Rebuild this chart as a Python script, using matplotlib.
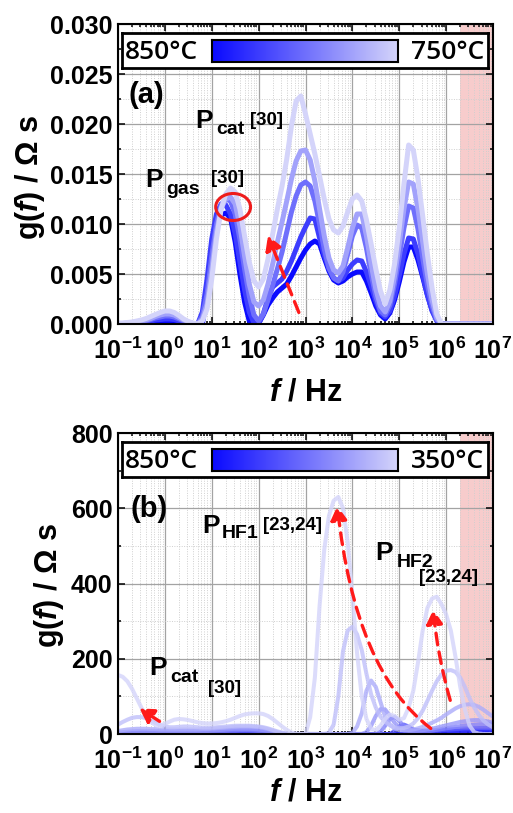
import numpy as np
import matplotlib
matplotlib.use('Agg')
import matplotlib.pyplot as plt
from matplotlib.colors import LinearSegmentedColormap
from matplotlib.patches import Ellipse, FancyArrowPatch
from matplotlib.ticker import LogLocator, MultipleLocator, FuncFormatter, NullFormatter, FormatStrFormatter

plt.rcParams['font.family'] = ['Liberation Sans', 'DejaVu Sans']
plt.rcParams['font.weight'] = 'bold'
plt.rcParams['mathtext.fontset'] = 'custom'
plt.rcParams['mathtext.rm'] = 'Liberation Sans:bold'
plt.rcParams['mathtext.bf'] = 'Liberation Sans:bold'
plt.rcParams['mathtext.it'] = 'Liberation Sans:italic:bold'

# ---------------- data ----------------
log_f = np.round(np.arange(-1.0, 7.01, 0.1), 1)   # sampling grid, log10(f / Hz)

# panel (a): g(f) in 1e-3 Ohm s, 750..850 C
temps_a = [850, 825, 800, 775, 750]
g_a_850 = [0, 0, 0, 0, 0.05, 0.1, 0.15, 0.2, 0.25, 0.3,
           0.3, 0.3, 0.25, 0.2, 0.1, 0.05, 0.0, 0.0, 0.0, 3.0,
           8.0, 10.4, 10.9, 11.1, 10.6, 8.2, 5.0, 2.2, 0.3, 0.0,
           0.1, 0.9, 1.9, 2.6, 3.2, 3.6, 4.0, 4.8, 5.7, 6.6,
           7.4, 8.0, 8.3, 8.0, 6.6, 5.3, 4.4, 4.1, 4.3, 4.7,
           5.0, 5.2, 5.2, 4.3, 3.1, 1.8, 0.9, 0.5, 1.1, 2.4,
           4.2, 6.2, 7.7, 7.7, 6.4, 4.7, 2.9, 1.4, 0.4, 0.0,
           0, 0, 0, 0, 0, 0, 0, 0, 0, 0, 0]
g_a_825 = [0, 0, 0, 0.05, 0.1, 0.15, 0.2, 0.3, 0.4, 0.45,
           0.5, 0.5, 0.45, 0.3, 0.2, 0.1, 0.0, 0.0, 1.2, 4.5,
           8.5, 11.0, 12.0, 11.9, 11.0, 9.0, 6.2, 3.4, 1.2, 0.1,
           0.0, 1.0, 2.6, 3.7, 4.1, 4.5, 5.3, 6.3, 7.5, 8.7,
           9.7, 10.6, 10.5, 8.6, 6.9, 5.5, 4.6, 4.3, 4.6, 5.4,
           6.0, 6.4, 6.3, 5.2, 3.8, 2.3, 1.1, 0.7, 1.3, 2.8,
           4.8, 7.0, 8.6, 8.5, 7.0, 4.9, 2.9, 1.3, 0.3, 0.0,
           0, 0, 0, 0, 0, 0, 0, 0, 0, 0, 0]
g_a_800 = [0.0, 0.0, 0.05, 0.1, 0.15, 0.2, 0.3, 0.45, 0.6, 0.7,
           0.8, 0.8, 0.7, 0.5, 0.3, 0.15, 0.05, 0.0, 0.8, 3.0,
           6.8, 10.0, 11.9, 12.5, 12.3, 11.0, 8.5, 5.5, 2.8, 0.9,
           0.3, 1.0, 2.4, 3.9, 5.5, 7.2, 9.2, 11.2, 12.8, 13.9,
           14.2, 13.8, 12.3, 10.0, 7.5, 5.6, 4.6, 4.3, 5.2, 7.0,
           8.8, 9.9, 9.6, 7.6, 5.0, 2.8, 1.3, 0.9, 1.9, 4.0,
           6.7, 9.6, 11.8, 11.6, 9.5, 6.6, 3.9, 1.8, 0.4, 0.0,
           0, 0, 0, 0, 0, 0, 0, 0, 0, 0, 0]
g_a_775 = [0.05, 0.05, 0.1, 0.15, 0.2, 0.3, 0.4, 0.55, 0.75, 0.9,
           1.0, 1.0, 0.9, 0.65, 0.4, 0.2, 0.05, 0.0, 0.5, 2.0,
           5.5, 9.2, 11.6, 12.5, 12.7, 12.0, 9.8, 6.8, 4.0, 2.2,
           1.8, 2.4, 4.0, 6.0, 8.2, 10.2, 12.3, 14.5, 16.3, 17.3,
           17.4, 16.4, 14.3, 11.5, 8.8, 6.6, 5.4, 5.1, 5.8, 7.6,
           9.6, 11.0, 11.0, 8.8, 6.0, 3.5, 1.8, 1.2, 2.3, 4.8,
           8.0, 11.5, 14.2, 14.0, 11.5, 8.2, 5.0, 2.4, 0.6, 0.0,
           0, 0, 0, 0, 0, 0, 0, 0, 0, 0, 0]
g_a_750 = [0.1, 0.1, 0.15, 0.2, 0.3, 0.4, 0.55, 0.75, 0.95, 1.15,
           1.3, 1.3, 1.15, 0.85, 0.5, 0.25, 0.1, 0.0, 0.3, 1.5,
           4.5, 8.5, 11.5, 13.0, 13.6, 13.2, 11.5, 8.8, 6.2, 4.3,
           3.7, 4.5, 6.5, 9.0, 11.5, 13.8, 16.5, 19.8, 22.3, 22.8,
           21.0, 19.0, 17.0, 14.8, 12.5, 10.5, 9.4, 9.1, 9.8, 11.2,
           12.5, 12.9, 12.3, 10.4, 8.0, 5.5, 3.3, 2.0, 3.4, 6.0,
           9.6, 14.0, 17.9, 17.4, 14.5, 10.8, 7.0, 3.6, 1.0, 0.0,
           0, 0, 0, 0, 0, 0, 0, 0, 0, 0, 0]
series_a = [g_a_850, g_a_825, g_a_800, g_a_775, g_a_750]

# panel (b): g(f) in Ohm s, 350..850 C
temps_b = [850, 750, 650, 550, 500, 450, 400, 350]
g_b_850 = [0] * 20 + [0, 0, 1, 1, 1, 1, 1, 1, 1, 1,
                      1, 1, 0, 0, 0, 0, 0, 0, 0, 0] + [0] * 20 + \
          [0, 0, 0, 1, 3, 5, 5, 4, 4, 4,
           4, 4, 5, 5, 5, 5, 5, 5, 5, 5, 5]
g_b_750 = [0, 1, 1, 1, 1, 1, 1, 1, 1, 1,
           1, 1, 1, 1, 1, 1, 1, 1, 1, 1,
           1, 2, 2, 2, 3, 3, 3, 3, 3, 3,
           2, 2, 1, 1, 0, 0, 0, 0, 0, 0] + [0] * 20 + \
          [0, 2, 6, 10, 10, 7, 5, 5, 6, 6,
           7, 7, 8, 8, 9, 9, 9, 9, 9, 9, 8]
g_b_650 = [1, 1, 2, 2, 2, 3, 3, 3, 3, 3,
           3, 3, 3, 3, 3, 3, 3, 3, 3, 3,
           3, 4, 4, 5, 5, 6, 6, 6, 6, 6,
           5, 4, 3, 2, 1, 0, 0, 0, 0, 0,
           0, 0, 0, 0, 0, 0, 0, 0, 0, 0,
           0, 0, 0, 0, 0, 0, 0, 0, 0, 8,
           20, 25, 20, 12, 8, 7, 7, 8, 9, 10,
           11, 12, 13, 14, 15, 15, 16, 16, 16, 16, 15]
g_b_550 = [2, 3, 3, 4, 4, 5, 5, 5, 5, 5,
           5, 5, 5, 5, 5, 5, 5, 5, 5, 5,
           6, 6, 7, 8, 9, 9, 10, 10, 10, 9,
           8, 7, 5, 3, 2, 1, 0, 0, 0, 0,
           0, 0, 0, 0, 0, 0, 0, 0, 0, 0,
           0, 0, 0, 0, 0, 0, 6, 22, 40, 45,
           35, 20, 10, 6, 5, 6, 7, 9, 11, 13,
           15, 17, 19, 21, 23, 24, 25, 26, 26, 26, 25]
g_b_500 = [4, 5, 6, 7, 8, 8, 8, 8, 8, 8,
           8, 8, 8, 8, 8, 8, 8, 8, 8, 8,
           9, 10, 11, 12, 13, 14, 14, 14, 14, 13,
           12, 10, 8, 5, 3, 1, 0, 0, 0, 0,
           0, 0, 0, 0, 0, 0, 0, 0, 0, 0,
           0, 0, 0, 5, 22, 48, 66, 65, 48, 30,
           17, 10, 8, 8, 9, 10, 12, 14, 17, 20,
           23, 26, 29, 32, 34, 36, 37, 37, 35, 33, 30]
g_b_450 = [8, 10, 12, 13, 14, 14, 14, 13, 13, 12,
           12, 12, 12, 12, 12, 12, 12, 12, 13, 13,
           14, 15, 16, 17, 18, 19, 20, 20, 20, 19,
           18, 16, 13, 9, 5, 2, 1, 0, 0, 0,
           0, 0, 0, 0, 0, 0, 0, 0, 0, 0,
           3, 20, 55, 115, 142, 125, 85, 45, 25, 15,
           10, 9, 10, 12, 15, 19, 24, 30, 36, 43,
           52, 60, 68, 74, 78, 79, 77, 72, 64, 55, 46]
g_b_400 = [25, 32, 38, 43, 45, 45, 42, 36, 30, 24,
           20, 18, 18, 19, 20, 20, 19, 18, 17, 17,
           17, 18, 19, 20, 21, 22, 22, 22, 22, 21,
           20, 18, 15, 11, 7, 4, 2, 1, 0, 0,
           0, 0, 0, 0, 0, 3, 25, 100, 220, 275,
           285, 265, 223, 160, 105, 70, 46, 32, 23, 17,
           15, 16, 20, 28, 42, 62, 88, 115, 140, 158,
           168, 170, 165, 150, 125, 95, 70, 50, 35, 25, 18]
g_b_350 = [157, 152, 140, 120, 95, 70, 48, 32, 24, 23,
           27, 33, 38, 40, 39, 37, 34, 31, 29, 28,
           28, 29, 31, 34, 38, 43, 48, 52, 54, 55,
           55, 53, 48, 40, 30, 20, 11, 4, 1, 0,
           0, 45, 150, 340, 490, 580, 620, 630, 600, 510,
           370, 215, 100, 40, 14, 10, 22, 40, 52, 48,
           38, 42, 70, 115, 190, 275, 335, 360, 365, 345,
           318, 275, 205, 126, 65, 22, 5, 1, 0, 0, 0]
series_b = [g_b_850, g_b_750, g_b_650, g_b_550, g_b_500, g_b_450, g_b_400, g_b_350]

labels_a = ['850°C', '750°C']
labels_b = ['850°C', '350°C']
shade_band = (2e6, 1e7)

# ---------------- figure ----------------
W, H = 513, 813
fig = plt.figure(figsize=(W / 100, H / 100), dpi=100)
cmap = LinearSegmentedColormap.from_list('bw', [(10/255, 10/255, 1.0), (212/255, 212/255, 250/255)])

def px_axes(x0, y0, x1, y1):
    return fig.add_axes([x0 / W, 1 - y1 / H, (x1 - x0) / W, (y1 - y0) / H])

ax_a = px_axes(118, 24, 493, 324)
ax_b = px_axes(118, 433, 493, 734)

freq = 10.0 ** log_f

def style(ax):
    ax.set_xscale('log')
    ax.set_xlim(1e-1, 1e7)
    ax.set_axisbelow(True)
    ax.xaxis.set_major_locator(LogLocator(base=10, numticks=20))
    ax.xaxis.set_minor_locator(LogLocator(base=10, subs=np.arange(2, 10), numticks=20))
    ax.xaxis.set_minor_formatter(NullFormatter())
    ax.xaxis.set_major_formatter(FuncFormatter(lambda v, p: r'$\mathbf{10^{%d}}$' % round(np.log10(v))))
    ax.tick_params(which='both', direction='in', top=True, right=True, width=1.1, labelsize=18)
    ax.tick_params(which='major', length=5)
    ax.tick_params(which='minor', length=2.5)
    ax.tick_params(axis='x', pad=9.5)
    ax.tick_params(axis='y', pad=4)
    for s in ax.spines.values():
        s.set_linewidth(1.5)
    ax.grid(which='major', color='#a3a3a3', lw=0.9, ls='-')
    ax.grid(which='minor', color='#cfcfcf', lw=0.7, ls=(0, (1, 1.5)))
    ax.axvspan(*shade_band, color='#f6c4c4', alpha=0.85, lw=0, zorder=0.4)
    for lab in ax.get_yticklabels():
        lab.set_fontweight('bold')

# panel (a)
style(ax_a)
ax_a.set_ylim(0, 0.030)
ax_a.yaxis.set_major_locator(MultipleLocator(0.005))
ax_a.yaxis.set_minor_locator(MultipleLocator(0.0025))
ax_a.yaxis.set_major_formatter(FormatStrFormatter('%.3f'))
for t, g in zip(temps_a, series_a):
    c = cmap((850 - t) / 100)
    ax_a.plot(freq, np.array(g) * 1e-3, color=c, lw=3.6, solid_capstyle='round', zorder=2)

# panel (b)
style(ax_b)
ax_b.set_ylim(0, 800)
ax_b.yaxis.set_major_locator(MultipleLocator(200))
ax_b.yaxis.set_minor_locator(MultipleLocator(100))
for t, g in zip(temps_b, series_b):
    c = cmap((850 - t) / 500)
    ax_b.plot(freq, g, color=c, lw=2.9, alpha=0.8, solid_capstyle='round', zorder=2)

for ax in (ax_a, ax_b):
    ax.set_xlabel(r'$\mathit{f}$ / Hz', fontsize=22, fontweight='bold')
    ax.set_ylabel(r'g($\mathit{f}$) / Ω s', fontsize=22, fontweight='bold')
ax_a.xaxis.set_label_coords(0.5, -0.178)
ax_b.xaxis.set_label_coords(0.5, -0.145)
ax_a.yaxis.set_label_coords(-0.19, 0.49)
ax_b.yaxis.set_label_coords(-0.14, 0.495)

# colour-bar legends
leg_font = dict(family=['Open Sans', 'DejaVu Sans'], fontweight='semibold', fontsize=19)
grad = np.linspace(0, 1, 256)[None, :]
for dy, labs in ((0, labels_a), (409, labels_b)):
    box = px_axes(122, 33 + dy, 488, 68 + dy)
    box.set_xticks([]); box.set_yticks([])
    box.set_facecolor('white')
    for s in box.spines.values():
        s.set_linewidth(2.0)
    gax = px_axes(212, 40 + dy, 398, 62 + dy)
    gax.imshow(grad, cmap=cmap, aspect='auto')
    gax.set_xticks([]); gax.set_yticks([])
    for s in gax.spines.values():
        s.set_linewidth(1.5)
    fig.text(125 / W, 1 - (59 + dy) / H, labs[0], ha='left', va='baseline', **leg_font)
    fig.text(484 / W, 1 - (59 + dy) / H, labs[1], ha='right', va='baseline', **leg_font)

def ftext(x, y, s, size):
    fig.text(x / W, 1 - y / H, s, fontsize=size, fontweight='bold', ha='left', va='baseline')

ftext(128, 103, '(a)', 21)
ftext(195, 128, 'P', 19); ftext(216, 134, 'cat', 14); ftext(250, 125, '[30]', 13.5)
ftext(145, 187, 'P', 19); ftext(166, 194, 'gas', 14); ftext(211, 183, '[30]', 13.5)
ftext(130, 517, '(b)', 21)
ftext(202, 533, 'P', 19); ftext(222, 538, 'HF1', 14); ftext(263, 530, '[23,24]', 13.5)
ftext(375, 560, 'P', 19); ftext(397, 567, 'HF2', 14); ftext(419, 582, '[23,24]', 13.5)
ftext(149, 675, 'P', 19); ftext(170, 682, 'cat', 14); ftext(208, 693, '[30]', 13.5)

# red markers
ax_a.add_patch(Ellipse((0.307, 0.39), 0.093, 0.09, transform=ax_a.transAxes,
                       fill=False, ec='#ee1c1c', lw=2.2, zorder=5))

def red_arrow(ax, start, end, conn='arc3,rad=0'):
    ar = FancyArrowPatch(start, end, transform=ax.transAxes,
                         arrowstyle='-|>,head_length=0.6,head_width=0.35', mutation_scale=14,
                         connectionstyle=conn, color='#ff1a1a',
                         lw=2.4, linestyle=(0, (3.5, 2.2)), zorder=6)
    ax.add_patch(ar)

red_arrow(ax_a, (0.485, 0.03), (0.397, 0.303))
red_arrow(ax_b, (0.84, 0.013), (0.584, 0.767), conn='angle3,angleA=144,angleB=96')
red_arrow(ax_b, (0.888, 0.103), (0.84, 0.422), conn='arc3,rad=-0.05')
red_arrow(ax_b, (0.117, 0.037), (0.051, 0.09))

fig.savefig('out.png', dpi=100)
